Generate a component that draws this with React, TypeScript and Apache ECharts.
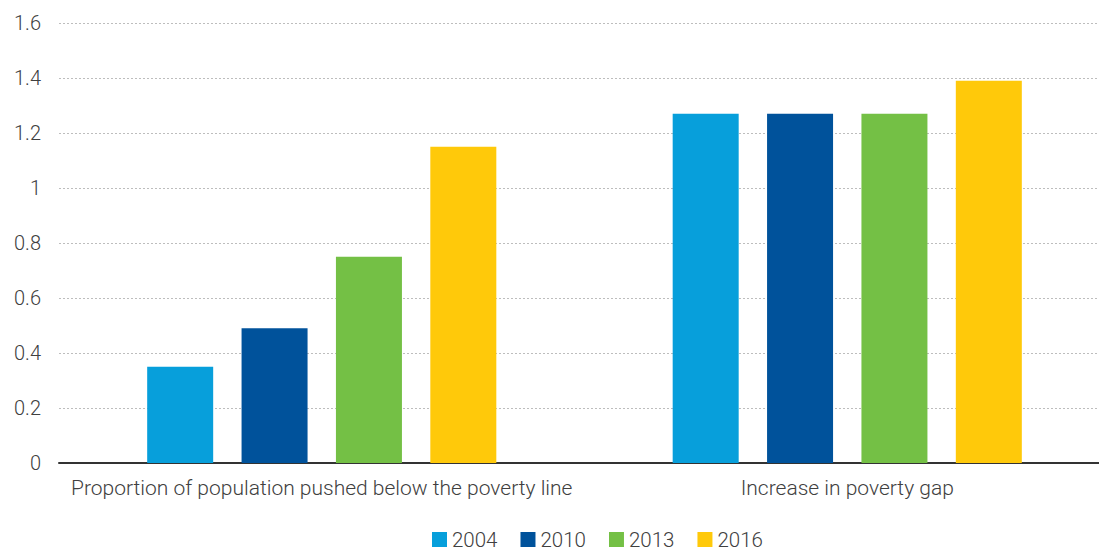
import React, { useEffect, useRef } from "react";
import * as echarts from "echarts";

const categories = [
  "Proportion of population pushed below the poverty line",
  "Increase in poverty gap",
];
const years = ["2004", "2010", "2013", "2016"];
const values2004 = [0.35, 1.27];
const values2010 = [0.49, 1.27];
const values2013 = [0.75, 1.27];
const values2016 = [1.15, 1.39];
const colors = ["#079fdb", "#00529b", "#74c045", "#ffc90a"];
const yTicks = [0, 0.2, 0.4, 0.6, 0.8, 1, 1.2, 1.4, 1.6];

export default function App() {
  const ref = useRef<HTMLDivElement>(null);
  useEffect(() => {
    if (!ref.current) return;
    const chart = echarts.init(ref.current, undefined, { renderer: "svg" });
    const seriesData = [values2004, values2010, values2013, values2016];
    const font = { fontFamily: "Roboto", fontWeight: 300, color: "#404040" };
    chart.setOption({
      animation: false,
      textStyle: { fontFamily: "Roboto", fontWeight: 300 },
      grid: {
        left: 59,
        width: 1051,
        top: 23,
        bottom: 88,
        containLabel: false,
        outerBoundsMode: "none",
      },
      legend: {
        top: 529,
        left: 432,
        padding: 0,
        itemWidth: 15,
        itemHeight: 15,
        itemGap: 23,
        icon: "rect",
        textStyle: { ...font, fontSize: 20.5, lineHeight: 19 },
        data: years,
      },
      xAxis: {
        type: "category",
        data: categories,
        axisLine: { lineStyle: { color: "#333333", width: 2 } },
        axisTick: { show: false },
        axisLabel: {
          ...font,
          fontSize: 21,
          margin: 14,
          interval: 0,
        },
      },
      yAxis: {
        type: "value",
        min: yTicks[0],
        max: yTicks[yTicks.length - 1],
        interval: 0.2,
        axisLine: { show: false },
        axisTick: { show: false },
        axisLabel: {
          ...font,
          fontSize: 20,
          margin: 18,
          formatter: (v: number) => String(Math.round(v * 10) / 10),
        },
        splitLine: { lineStyle: { color: "#bdbdbd", type: [2, 2], width: 1 } },
      },
      series: years.map((y, i) => ({
        name: y,
        type: "bar",
        data: seriesData[i],
        barWidth: 66,
        barGap: "43%",
        itemStyle: { color: colors[i] },
      })),
    });
    return () => chart.dispose();
  }, []);
  return (
    <div
      ref={ref}
      style={{ position: "absolute", left: 0, top: 0, width: 1099, height: 551 }}
    />
  );
}
